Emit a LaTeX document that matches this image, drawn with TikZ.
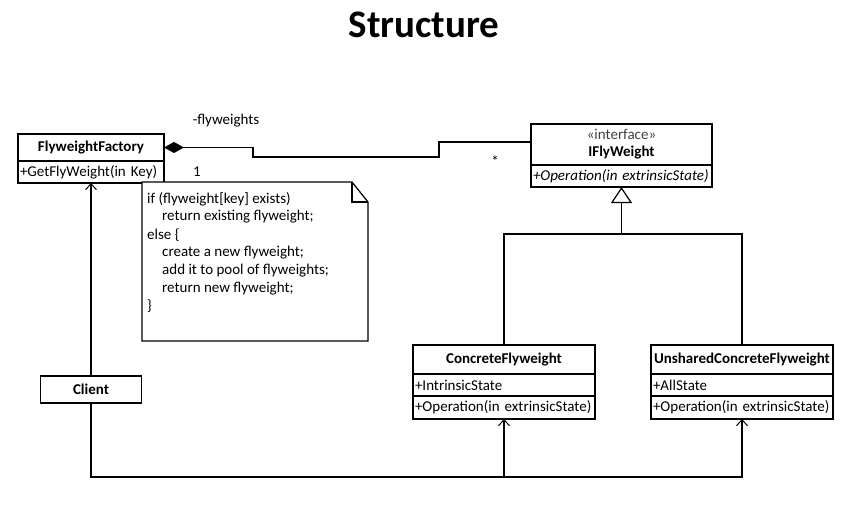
\documentclass[tikz,border=0pt]{standalone}
\usepackage{fontspec}
\setmainfont{Carlito}
\usetikzlibrary{positioning,arrows.meta}

\tikzset{
  uml/.style={draw, line width=1.2pt, inner xsep=2pt, inner ysep=0pt, outer sep=0pt,
    font=\fontsize{15}{17}\selectfont},
  umltitle/.style={uml, align=center, font=\fontsize{15}{17}\selectfont\bfseries},
  link/.style={line width=1.2pt},
  openhead/.style={-{Straight Barb[length=6pt,width=11pt,line width=1pt]}},
  label/.style={font=\fontsize{15}{17}\selectfont, inner sep=0pt},
}

\begin{document}
\begin{tikzpicture}[x=1pt,y=-1pt]
    \useasboundingbox (0,0) rectangle (862,531);

    % Title
    \node[font=\fontsize{39}{42}\selectfont\bfseries] (title) at (424,25) {Structure};

    % Draw the classes
    \node[umltitle, minimum width=146pt, minimum height=27pt] (factory) at (91,147.5) {FlyweightFactory};
    \node[uml, text width=142pt, minimum height=22pt, below=0pt of factory] (factoryops) {+GetFlyWeight(in Key)};

    \node[umltitle, minimum width=181pt, minimum height=41pt] (iface) at (621.5,144.5)
        {{\mdseries\color{black!75}«interface»}\\IFlyWeight};
    \node[uml, text width=177pt, minimum height=22pt, below=0pt of iface] (ifaceops) {\itshape +Operation(in extrinsicState)};

    \node[umltitle, minimum width=182pt, minimum height=29pt] (concrete) at (504,359.5) {ConcreteFlyweight};
    \node[uml, text width=178pt, minimum height=22pt, below=0pt of concrete] (concreteattr) {+IntrinsicState};
    \node[uml, text width=178pt, minimum height=23pt, below=0pt of concreteattr] (concreteops) {+Operation(in extrinsicState)};

    \node[umltitle, minimum width=182pt, minimum height=29pt] (unshared) at (742,359.5) {UnsharedConcreteFlyweight};
    \node[uml, text width=178pt, minimum height=22pt, below=0pt of unshared] (unsharedattr) {+AllState};
    \node[uml, text width=178pt, minimum height=23pt, below=0pt of unsharedattr] (unsharedops) {+Operation(in extrinsicState)};

    \node[umltitle, minimum width=101pt, minimum height=27pt] (client) at (91,389.5) {Client};

    % Composition between factory and flyweights
    \draw[link, {Diamond[length=20pt,width=11pt]}-] (factory.east) -- (253,147.5) -- (253,157)
        -- (439,157) |- (iface.west |- 0,142);
    \node[label] (rolename) at (226,121) {-flyweights};
    \node[label] (multone) at (197,172) {1};
    \node[label] (multmany) at (495,161) {*};

    % Inheritance
    \coordinate (hub) at (621.5,234);
    \draw[link] (concrete.north) |- (hub) -| (unshared.north);
    \draw[link, -{Triangle[open,length=16pt,width=21pt,fill=white]}] (hub) -- (ifaceops.south);

    % Client associations
    \coordinate (bus) at (742,477);
    \draw[link, openhead] (client.north) -- (factoryops.south);
    \draw[link, openhead] (client.south) |- (bus) -- (unsharedops.south);
    \draw[link, openhead] (concreteops.south |- bus) -- (concreteops.south);

    % Note with folded corner
    \draw[link, fill=white] (142,182) -- (352,182) -- (368,202) -- (368,341) -- (142,341) -- cycle;
    \draw[link] (352,182) -- (352,202) -- (368,202);
    \foreach \i/\dx/\txt in {1/0/{if (flyweight[key] exists)}, 2/15/{return existing flyweight;},
        3/0/{else \{}, 4/15/{create a new flyweight;}, 5/15/{add it to pool of flyweights;},
        6/15/{return new flyweight;}, 7/0/{\}}} {
        \node[label, anchor=west] (noteline\i) at (147+\dx,{199+17.9*(\i-1)}) {\txt};
    }
\end{tikzpicture}
\end{document}
